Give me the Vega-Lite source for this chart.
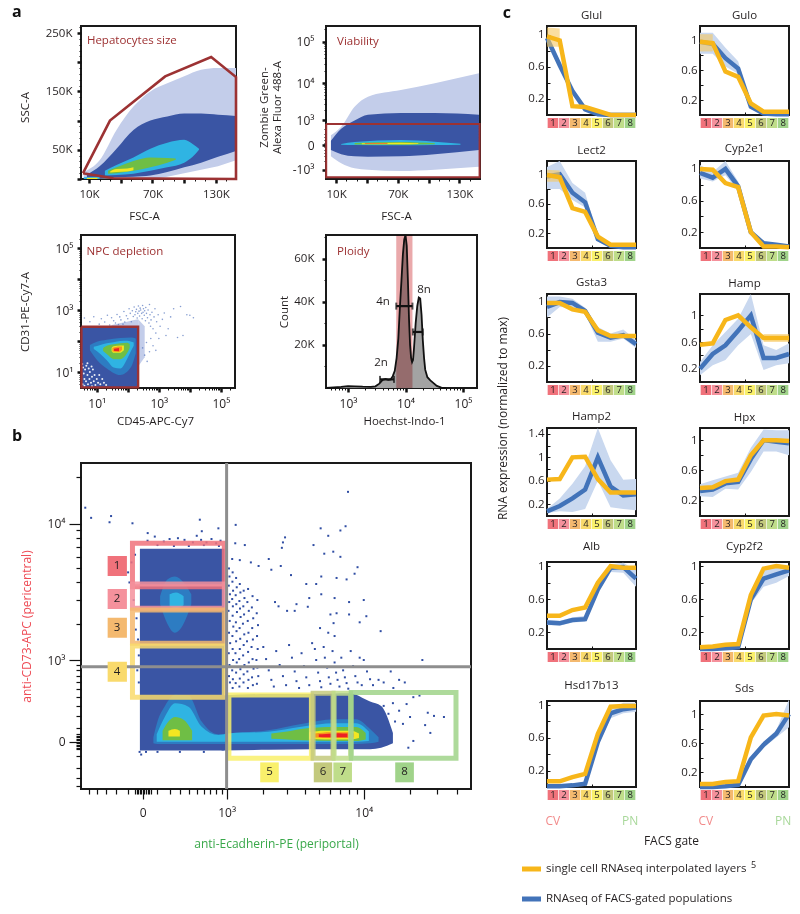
{"$schema":"https://vega.github.io/schema/vega-lite/v6.json","background":"white","padding":{"left":11,"top":3,"right":0,"bottom":0},
"config":{"font":"Open Sans","view":{"stroke":"#1a1a1a","strokeWidth":2},"range":{"category":["#c3cdea","#3a55a4","#2d7cc2","#2fb4e3","#6fbe45","#f2e621","#f7941d","#ed2024","#f0727b","#f5919c","#f4b96f","#f9da6c","#f9f06b","#c3c97d","#bfdd8a","#a0d38a"]},
"axis":{"domain":false,"grid":false,"labelFont":"Open Sans","labelFontSize":11.5,"labelColor":"#231f20","labelFlush":false,"labelOverlap":false,"labelBound":false,"titleFont":"Open Sans","titleFontSize":11.5,"titleFontWeight":"normal","titleColor":"#231f20","tickColor":"#111111","labelPadding":3},
"title":{"font":"Open Sans","fontSize":11.5,"fontWeight":"normal","color":"#231f20","offset":5,"frame":"group"},"text":{"font":"Open Sans"}},
"datasets":{
"sp":[{"k":0}],
"g":[{"level":"g1","n":"1"},{"level":"g2","n":"2"},{"level":"g3","n":"3"},{"level":"g4","n":"4"},{"level":"g5","n":"5"},{"level":"g6","n":"6"},{"level":"g7","n":"7"},{"level":"g8","n":"8"}],
"c":[
{"gene":"Glul","g":1,"b":0.96,"l":0.92,"h":1.0,"y":0.98,"yl":0.85,"yh":1.09},{"gene":"Glul","g":2,"b":0.62,"l":0.58,"h":0.66,"y":0.93,"yl":0.85,"yh":1.08},{"gene":"Glul","g":3,"b":0.3,"l":0.26,"h":0.33,"y":0.11},{"gene":"Glul","g":4,"b":0.07,"l":0.05,"h":0.09,"y":0.1},{"gene":"Glul","g":5,"b":0.01,"l":0,"h":0.03,"y":0.05},{"gene":"Glul","g":6,"b":0,"l":0,"h":0.03,"y":0},{"gene":"Glul","g":7,"b":0,"l":0,"h":0.03,"y":0},{"gene":"Glul","g":8,"b":0,"l":0,"h":0.03,"y":0},
{"gene":"Gulo","g":1,"b":0.98,"l":0.82,"h":1.1,"y":0.98,"yl":0.85,"yh":1.08},{"gene":"Gulo","g":2,"b":0.95,"l":0.82,"h":1.1,"y":0.96,"yl":0.85,"yh":1.08},{"gene":"Gulo","g":3,"b":0.76,"l":0.65,"h":0.9,"y":0.58},{"gene":"Gulo","g":4,"b":0.62,"l":0.55,"h":0.72,"y":0.51},{"gene":"Gulo","g":5,"b":0.11,"l":0.08,"h":0.14,"y":0.155},{"gene":"Gulo","g":6,"b":0.02,"l":0.01,"h":0.04,"y":0.045},{"gene":"Gulo","g":7,"b":0.01,"l":0,"h":0.03,"y":0.045},{"gene":"Gulo","g":8,"b":0.01,"l":0,"h":0.03,"y":0.045},
{"gene":"Lect2","g":1,"b":0.97,"l":0.8,"h":1.1,"y":0.99,"yl":0.9,"yh":1.06},{"gene":"Lect2","g":2,"b":1.0,"l":0.8,"h":1.18,"y":0.96,"yl":0.9,"yh":1.05},{"gene":"Lect2","g":3,"b":0.75,"l":0.65,"h":0.88,"y":0.54},{"gene":"Lect2","g":4,"b":0.62,"l":0.55,"h":0.75,"y":0.49},{"gene":"Lect2","g":5,"b":0.12,"l":0.09,"h":0.15,"y":0.155},{"gene":"Lect2","g":6,"b":0.03,"l":0.01,"h":0.05,"y":0.045},{"gene":"Lect2","g":7,"b":0.01,"l":0,"h":0.03,"y":0.045},{"gene":"Lect2","g":8,"b":0.01,"l":0,"h":0.03,"y":0.045},
{"gene":"Cyp2e1","g":1,"b":0.95,"l":0.88,"h":1.05,"y":1.0},{"gene":"Cyp2e1","g":2,"b":0.89,"l":0.84,"h":0.96,"y":0.99},{"gene":"Cyp2e1","g":3,"b":1.0,"l":0.92,"h":1.1,"y":0.82},{"gene":"Cyp2e1","g":4,"b":0.78,"l":0.72,"h":0.84,"y":0.77},{"gene":"Cyp2e1","g":5,"b":0.2,"l":0.17,"h":0.23,"y":0.2},{"gene":"Cyp2e1","g":6,"b":0.06,"l":0.03,"h":0.08,"y":0.02},{"gene":"Cyp2e1","g":7,"b":0.04,"l":0.02,"h":0.06,"y":0.02},{"gene":"Cyp2e1","g":8,"b":0.02,"l":0,"h":0.04,"y":0.01},
{"gene":"Gsta3","g":1,"b":0.93,"l":0.8,"h":1.06,"y":0.98},{"gene":"Gsta3","g":2,"b":0.99,"l":0.93,"h":1.06,"y":0.98},{"gene":"Gsta3","g":3,"b":0.98,"l":0.92,"h":1.03,"y":0.9},{"gene":"Gsta3","g":4,"b":0.88,"l":0.85,"h":0.92,"y":0.87},{"gene":"Gsta3","g":5,"b":0.61,"l":0.5,"h":0.68,"y":0.64},{"gene":"Gsta3","g":6,"b":0.55,"l":0.5,"h":0.6,"y":0.57},{"gene":"Gsta3","g":7,"b":0.58,"l":0.54,"h":0.65,"y":0.57},{"gene":"Gsta3","g":8,"b":0.47,"l":0.42,"h":0.52,"y":0.57},
{"gene":"Hamp","g":1,"b":0.2,"l":0.1,"h":0.3,"y":0.56},{"gene":"Hamp","g":2,"b":0.42,"l":0.25,"h":0.55,"y":0.58},{"gene":"Hamp","g":3,"b":0.55,"l":0.33,"h":0.75,"y":0.93},{"gene":"Hamp","g":4,"b":0.77,"l":0.55,"h":0.95,"y":1.0},{"gene":"Hamp","g":5,"b":1.0,"l":0.72,"h":1.32,"y":0.82},{"gene":"Hamp","g":6,"b":0.36,"l":0.18,"h":0.55,"y":0.66,"yl":0.6,"yh":0.72},{"gene":"Hamp","g":7,"b":0.36,"l":0.25,"h":0.48,"y":0.66,"yl":0.6,"yh":0.72},{"gene":"Hamp","g":8,"b":0.42,"l":0.28,"h":0.58,"y":0.66,"yl":0.6,"yh":0.72},
{"gene":"Hamp2","g":1,"b":0.08,"l":0.05,"h":0.12,"y":0.62},{"gene":"Hamp2","g":2,"b":0.17,"l":0.08,"h":0.3,"y":0.63},{"gene":"Hamp2","g":3,"b":0.3,"l":0.07,"h":0.55,"y":1.0},{"gene":"Hamp2","g":4,"b":0.45,"l":0.12,"h":0.85,"y":1.01},{"gene":"Hamp2","g":5,"b":1.0,"l":0.6,"h":1.5,"y":0.63},{"gene":"Hamp2","g":6,"b":0.5,"l":0.15,"h":0.95,"y":0.4},{"gene":"Hamp2","g":7,"b":0.35,"l":0.12,"h":0.62,"y":0.4},{"gene":"Hamp2","g":8,"b":0.37,"l":0.1,"h":0.63,"y":0.4},
{"gene":"Hpx","g":1,"b":0.33,"l":0.26,"h":0.42,"y":0.37},{"gene":"Hpx","g":2,"b":0.35,"l":0.25,"h":0.47,"y":0.38},{"gene":"Hpx","g":3,"b":0.43,"l":0.36,"h":0.52,"y":0.46},{"gene":"Hpx","g":4,"b":0.45,"l":0.35,"h":0.57,"y":0.48},{"gene":"Hpx","g":5,"b":0.75,"l":0.58,"h":0.9,"y":0.8},{"gene":"Hpx","g":6,"b":1.0,"l":0.85,"h":1.14,"y":1.0},{"gene":"Hpx","g":7,"b":0.98,"l":0.85,"h":1.13,"y":1.0},{"gene":"Hpx","g":8,"b":0.96,"l":0.8,"h":1.13,"y":0.99},
{"gene":"Alb","g":1,"b":0.32,"l":0.29,"h":0.35,"y":0.4},{"gene":"Alb","g":2,"b":0.31,"l":0.28,"h":0.34,"y":0.4},{"gene":"Alb","g":3,"b":0.35,"l":0.32,"h":0.38,"y":0.47},{"gene":"Alb","g":4,"b":0.36,"l":0.33,"h":0.4,"y":0.5},{"gene":"Alb","g":5,"b":0.72,"l":0.68,"h":0.76,"y":0.8},{"gene":"Alb","g":6,"b":0.98,"l":0.93,"h":1.02,"y":1.0},{"gene":"Alb","g":7,"b":0.99,"l":0.92,"h":1.04,"y":0.98},{"gene":"Alb","g":8,"b":0.85,"l":0.75,"h":0.95,"y":0.98},
{"gene":"Cyp2f2","g":1,"b":0,"l":0,"h":0.02,"y":0.02},{"gene":"Cyp2f2","g":2,"b":0,"l":0,"h":0.02,"y":0.03},{"gene":"Cyp2f2","g":3,"b":0.01,"l":0,"h":0.03,"y":0.05},{"gene":"Cyp2f2","g":4,"b":0.02,"l":0,"h":0.04,"y":0.06},{"gene":"Cyp2f2","g":5,"b":0.6,"l":0.55,"h":0.68,"y":0.65},{"gene":"Cyp2f2","g":6,"b":0.85,"l":0.75,"h":0.95,"y":0.97},{"gene":"Cyp2f2","g":7,"b":0.9,"l":0.8,"h":1.0,"y":1.0},{"gene":"Cyp2f2","g":8,"b":0.95,"l":0.88,"h":1.0,"y":0.98},
{"gene":"Hsd17b13","g":1,"b":0.01,"l":0,"h":0.03,"y":0.07},{"gene":"Hsd17b13","g":2,"b":0.01,"l":0,"h":0.03,"y":0.07},{"gene":"Hsd17b13","g":3,"b":0.02,"l":0,"h":0.04,"y":0.12},{"gene":"Hsd17b13","g":4,"b":0.04,"l":0.02,"h":0.06,"y":0.16},{"gene":"Hsd17b13","g":5,"b":0.55,"l":0.5,"h":0.6,"y":0.65},{"gene":"Hsd17b13","g":6,"b":0.9,"l":0.84,"h":0.95,"y":0.98},{"gene":"Hsd17b13","g":7,"b":0.95,"l":0.9,"h":1.03,"y":0.99},{"gene":"Hsd17b13","g":8,"b":0.97,"l":0.92,"h":1.03,"y":0.99},
{"gene":"Sds","g":1,"b":0,"l":0,"h":0.02,"y":0.04},{"gene":"Sds","g":2,"b":0,"l":0,"h":0.02,"y":0.04},{"gene":"Sds","g":3,"b":0.01,"l":0,"h":0.03,"y":0.07},{"gene":"Sds","g":4,"b":0.03,"l":0.01,"h":0.05,"y":0.08},{"gene":"Sds","g":5,"b":0.38,"l":0.34,"h":0.42,"y":0.68},{"gene":"Sds","g":6,"b":0.58,"l":0.54,"h":0.62,"y":0.98},{"gene":"Sds","g":7,"b":0.73,"l":0.68,"h":0.78,"y":1.0},{"gene":"Sds","g":8,"b":1.0,"l":0.82,"h":1.2,"y":0.98}
]},
"spacing":9,
"hconcat":[
{"spacing":-2,"vconcat":[
{"columns":2,"bounds":"flush","spacing":{"row":56,"column":90},"concat":[
    {"width":155,"height":153,"title":{"text":"a","anchor":"start","dx":-69,"dy":4,"fontSize":16,"fontWeight":"bold","color":"#111111"},
     "layer":[
      {"data":{"values":[
       {"shape":"s","level":"a0","x":5,"y":2,"y2":12},{"shape":"s","level":"a0","x":20,"y":1,"y2":32},{"shape":"s","level":"a0","x":36,"y":1,"y2":84},{"shape":"s","level":"a0","x":52,"y":1,"y2":124},{"shape":"s","level":"a0","x":68,"y":1,"y2":150},{"shape":"s","level":"a0","x":84,"y":4,"y2":164},{"shape":"s","level":"a0","x":100,"y":10,"y2":176},{"shape":"s","level":"a0","x":116,"y":16,"y2":187},{"shape":"s","level":"a0","x":132,"y":22,"y2":190},{"shape":"s","level":"a0","x":149,"y":32,"y2":190},
       {"shape":"b","level":"d0","x":8,"y":0,"y2":8},{"shape":"b","level":"d0","x":20,"y":1,"y2":22},{"shape":"b","level":"d0","x":36,"y":3,"y2":52},{"shape":"b","level":"d0","x":52,"y":4,"y2":84},{"shape":"b","level":"d0","x":68,"y":6,"y2":100},{"shape":"b","level":"d0","x":84,"y":12,"y2":107},{"shape":"b","level":"d0","x":100,"y":20,"y2":112},{"shape":"b","level":"d0","x":116,"y":28,"y2":112},{"shape":"b","level":"d0","x":132,"y":38,"y2":110},{"shape":"b","level":"d0","x":149,"y":48,"y2":108},
       {"shape":"c","level":"d2","x":25,"y":6,"y2":14},{"shape":"c","level":"d2","x":36,"y":7,"y2":24},{"shape":"c","level":"d2","x":52,"y":9,"y2":37},{"shape":"c","level":"d2","x":68,"y":14,"y2":52},{"shape":"c","level":"d2","x":84,"y":20,"y2":62},{"shape":"c","level":"d2","x":100,"y":28,"y2":67},{"shape":"c","level":"d2","x":108,"y":38,"y2":60},{"shape":"c","level":"d2","x":114,"y":50,"y2":52},
       {"shape":"g","level":"d3","x":28,"y":9,"y2":14},{"shape":"g","level":"d3","x":36,"y":10,"y2":20},{"shape":"g","level":"d3","x":52,"y":14,"y2":31},{"shape":"g","level":"d3","x":68,"y":20,"y2":37},{"shape":"g","level":"d3","x":84,"y":28,"y2":36},{"shape":"g","level":"d3","x":92,"y":33,"y2":35},
       {"shape":"y","level":"d4","x":30,"y":11,"y2":13},{"shape":"y","level":"d4","x":36,"y":12,"y2":17},{"shape":"y","level":"d4","x":46,"y":13,"y2":18},{"shape":"y","level":"d4","x":52,"y":15,"y2":20},
       {"shape":"y2","level":"d2","x":5,"y":0,"y2":3},{"shape":"y2","level":"d2","x":20,"y":0,"y2":4},{"shape":"y3","level":"d4","x":8,"y":0,"y2":2},{"shape":"y3","level":"d4","x":18,"y":0,"y2":2}
      ]},"mark":{"type":"area","interpolate":"monotone","clip":true},"encoding":{"x":{"field":"x","type":"quantitative","scale":{"domain":[2.4,149],"nice":false},"axis":{"labelOverlap":false,"tickCount":500,"title":"FSC-A","titleX":63,"titleY":31,"values":[10,20,30,40,50,60,70,80,90,100,110,120,130,140],"labelExpr":"datum.value==10||datum.value==70||datum.value==130?datum.value+'K':''","labelPadding":5,"tickSize":{"condition":{"test":"datum.value%30==10","value":4},"value":2},"tickWidth":{"condition":{"test":"datum.value%30==10","value":2.5},"value":1}}},"y":{"field":"y","type":"quantitative","scale":{"domain":[0,262],"nice":false},"axis":{"labelOverlap":false,"tickCount":500,"title":"SSC-A","titleX":-51,"titleY":81,"values":[0,10,20,30,40,50,60,70,80,90,100,110,120,130,140,150,160,170,180,190,200,210,220,230,240,250,260],"labelExpr":"datum.value==50||datum.value==150||datum.value==250?datum.value+'K':''","labelPadding":5,"tickSize":{"condition":{"test":"datum.value%50==0","value":4},"value":2},"tickWidth":{"condition":{"test":"datum.value%50==0","value":2.5},"value":1}}},"y2":{"field":"y2"},"color":{"field":"level","type":"nominal","legend":null},"detail":{"field":"shape"}}},
      {"data":{"values":[{"o":1,"x":4.3,"y":10},{"o":2,"x":29.8,"y":100},{"o":3,"x":82,"y":175.7},{"o":4,"x":125.5,"y":209},{"o":5,"x":149,"y":174.6},{"o":6,"x":149,"y":0},{"o":7,"x":33,"y":1.4},{"o":8,"x":4.3,"y":10}]},"mark":{"type":"line","color":"#9c3233","strokeWidth":2.6},"encoding":{"x":{"field":"x","type":"quantitative"},"y":{"field":"y","type":"quantitative"},"order":{"field":"o"}}},
      {"data":{"values":[{"x":8,"y":236,"t":"Hepatocytes size"}]},"mark":{"type":"text","align":"left","fontSize":11.5,"color":"#9c2f30"},"encoding":{"x":{"field":"x","type":"quantitative"},"y":{"field":"y","type":"quantitative"},"text":{"field":"t"}}}
     ]},
    {"width":154,"height":153,
     "layer":[
      {"data":{"values":[
       {"shape":"s","level":"a0","x":5,"y":-300,"y2":250},{"shape":"s","level":"a0","x":15,"y":-600,"y2":605},{"shape":"s","level":"a0","x":28,"y":-900,"y2":2500},{"shape":"s","level":"a0","x":41,"y":-1000,"y2":4600},{"shape":"s","level":"a0","x":73,"y":-1100,"y2":6800},{"shape":"s","level":"a0","x":106,"y":-1000,"y2":10000},{"shape":"s","level":"a0","x":149,"y":-800,"y2":17500},
       {"shape":"b","level":"d0","x":5,"y":-110,"y2":90},{"shape":"b","level":"d0","x":15,"y":-230,"y2":500},{"shape":"b","level":"d0","x":28,"y":-300,"y2":1000},{"shape":"b","level":"d0","x":41,"y":-313,"y2":1500},{"shape":"b","level":"d0","x":73,"y":-300,"y2":1660},{"shape":"b","level":"d0","x":106,"y":-230,"y2":1660},{"shape":"b","level":"d0","x":149,"y":-110,"y2":1500},
       {"shape":"c","level":"d2","x":15,"y":5,"y2":20},{"shape":"c","level":"d2","x":28,"y":0,"y2":60},{"shape":"c","level":"d2","x":73,"y":-5,"y2":110},{"shape":"c","level":"d2","x":106,"y":0,"y2":70},{"shape":"c","level":"d2","x":131,"y":5,"y2":25},
       {"shape":"g","level":"d3","x":28,"y":8,"y2":40},{"shape":"g","level":"d3","x":73,"y":5,"y2":65},{"shape":"g","level":"d3","x":106,"y":15,"y2":35},
       {"shape":"y","level":"d4","x":35,"y":15,"y2":35},{"shape":"y","level":"d4","x":73,"y":15,"y2":45},{"shape":"y","level":"d4","x":90,"y":20,"y2":35},
       {"shape":"r","level":"d6","x":38,"y":22,"y2":30},{"shape":"r","level":"d6","x":60,"y":22,"y2":32}
      ]},"mark":{"type":"area","interpolate":"monotone","clip":true},"encoding":{"x":{"field":"x","type":"quantitative","scale":{"domain":[0.2,150],"nice":false},"axis":{"labelOverlap":false,"tickCount":500,"title":"FSC-A","titleX":70,"titleY":31,"values":[10,20,30,40,50,60,70,80,90,100,110,120,130,140],"labelExpr":"datum.value==10||datum.value==70||datum.value==130?datum.value+'K':''","labelPadding":5,"tickSize":{"condition":{"test":"datum.value%30==10","value":4},"value":2},"tickWidth":{"condition":{"test":"datum.value%30==10","value":2.5},"value":1}}},"y":{"field":"y","type":"quantitative","scale":{"type":"symlog","constant":350,"domain":[-1907,238000],"nice":false},"axis":{"labelOverlap":false,"tickCount":500,"title":["Zombie Green-","Alexa Fluor 488-A"],"titleX":-57,"titleY":81,"values":[-1000,-500,-300,-200,-100,-50,-25,0,25,50,100,200,300,500,1000,2000,3000,4000,5000,6000,7000,8000,9000,10000,20000,30000,40000,50000,60000,70000,80000,90000,100000,200000],"labelExpr":"datum.value==-1000?'-10³':datum.value==0?'0':datum.value==1000?'10³':datum.value==10000?'10⁴':datum.value==100000?'10⁵':''","labelPadding":8,"labelFontSize":12,"tickSize":{"condition":{"test":"datum.value==-1000||datum.value==0||datum.value==1000||datum.value==10000||datum.value==100000","value":4},"value":2},"tickWidth":{"condition":{"test":"datum.value==-1000||datum.value==0||datum.value==1000||datum.value==10000||datum.value==100000","value":2.5},"value":1}}},"y2":{"field":"y2"},"color":{"field":"level","type":"nominal","legend":null},"detail":{"field":"shape"}}},
      {"data":{"values":[{"o":1,"x":0.4,"y":757},{"o":2,"x":149.6,"y":757},{"o":3,"x":149.6,"y":-1710},{"o":4,"x":0.4,"y":-1710},{"o":5,"x":0.4,"y":757}]},"mark":{"type":"line","color":"#9c3233","strokeWidth":2},"encoding":{"x":{"field":"x","type":"quantitative"},"y":{"field":"y","type":"quantitative"},"order":{"field":"o"}}},
      {"data":{"values":[{"x":11,"y":98700,"t":"Viability"}]},"mark":{"type":"text","align":"left","fontSize":11.5,"color":"#9c2f30"},"encoding":{"x":{"field":"x","type":"quantitative"},"y":{"field":"y","type":"quantitative"},"text":{"field":"t"}}}
     ]},
    {"width":154,"height":153,
     "layer":[
      {"data":{"values":[
       {"shape":"s1","level":"a0","x":30,"y":288,"y2":330},{"shape":"s1","level":"a0","x":100,"y":288,"y2":430},{"shape":"s1","level":"a0","x":215,"y":288,"y2":500},
       {"shape":"s2","level":"a0","x":215,"y":15,"y2":500},{"shape":"s2","level":"a0","x":350,"y":30,"y2":300},
       {"shape":"b","level":"d0","x":3.05,"y":3.1,"y2":288},{"shape":"b","level":"d0","x":215,"y":3.1,"y2":288},
       {"shape":"m","level":"d1","x":6,"y":50,"y2":75},{"shape":"m","level":"d1","x":10,"y":25,"y2":95},{"shape":"m","level":"d1","x":21,"y":13,"y2":110},{"shape":"m","level":"d1","x":57,"y":8,"y2":125},{"shape":"m","level":"d1","x":130,"y":15,"y2":130},{"shape":"m","level":"d1","x":180,"y":40,"y2":120},
       {"shape":"c","level":"d2","x":8,"y":55,"y2":65},{"shape":"c","level":"d2","x":13,"y":38,"y2":75},{"shape":"c","level":"d2","x":21,"y":24,"y2":85},{"shape":"c","level":"d2","x":35,"y":14,"y2":92},{"shape":"c","level":"d2","x":57,"y":13,"y2":100},{"shape":"c","level":"d2","x":94,"y":26,"y2":102},{"shape":"c","level":"d2","x":130,"y":50,"y2":95},{"shape":"c","level":"d2","x":155,"y":70,"y2":90},
       {"shape":"g","level":"d3","x":16,"y":48,"y2":60},{"shape":"g","level":"d3","x":21,"y":38,"y2":70},{"shape":"g","level":"d3","x":35,"y":26,"y2":78},{"shape":"g","level":"d3","x":57,"y":26,"y2":85},{"shape":"g","level":"d3","x":94,"y":40,"y2":88},{"shape":"g","level":"d3","x":115,"y":60,"y2":80},
       {"shape":"y","level":"d4","x":30,"y":48,"y2":60},{"shape":"y","level":"d4","x":35,"y":42,"y2":68},{"shape":"y","level":"d4","x":57,"y":42,"y2":72},{"shape":"y","level":"d4","x":75,"y":50,"y2":72},
       {"shape":"o","level":"d5","x":32,"y":46,"y2":60},{"shape":"o","level":"d5","x":55,"y":45,"y2":66},{"shape":"o","level":"d5","x":65,"y":52,"y2":66},
       {"shape":"r","level":"d6","x":36,"y":48,"y2":56},{"shape":"r","level":"d6","x":52,"y":47,"y2":60}
      ]},"mark":{"type":"area","interpolate":"monotone","clip":true},"encoding":{"x":{"field":"x","type":"quantitative","scale":{"type":"log","domain":[3.1,285000],"nice":false},"axis":{"labelOverlap":false,"tickCount":500,"title":"CD45-APC-Cy7","titleX":74,"titleY":27,"values":[4,5,6,7,8,9,10,20,30,40,50,60,70,80,90,100,200,300,400,500,600,700,800,900,1000,2000,3000,4000,5000,6000,7000,8000,9000,10000,20000,30000,40000,50000,60000,70000,80000,90000,100000,200000],"labelExpr":"datum.value==10?'10¹':datum.value==1000?'10³':datum.value==100000?'10⁵':''","labelFontSize":12,"labelPadding":6,"tickSize":{"condition":{"test":"datum.value==10||datum.value==100||datum.value==1000||datum.value==10000||datum.value==100000","value":4},"value":2},"tickWidth":{"condition":{"test":"datum.value==10||datum.value==100||datum.value==1000||datum.value==10000||datum.value==100000","value":2.5},"value":1}}},"y":{"field":"y","type":"quantitative","scale":{"type":"log","domain":[3.05,263000],"nice":false},"axis":{"labelOverlap":false,"tickCount":500,"title":"CD31-PE-Cy7-A","titleX":-51,"values":[4,5,6,7,8,9,10,20,30,40,50,60,70,80,90,100,200,300,400,500,600,700,800,900,1000,2000,3000,4000,5000,6000,7000,8000,9000,10000,20000,30000,40000,50000,60000,70000,80000,90000,100000,200000],"labelExpr":"datum.value==10?'10¹':datum.value==1000?'10³':datum.value==100000?'10⁵':''","labelFontSize":12,"labelPadding":4,"tickSize":{"condition":{"test":"datum.value==10||datum.value==100||datum.value==1000||datum.value==10000||datum.value==100000","value":4},"value":2},"tickWidth":{"condition":{"test":"datum.value==10||datum.value==100||datum.value==1000||datum.value==10000||datum.value==100000","value":2.5},"value":1}}},"y2":{"field":"y2"},"color":{"field":"level","type":"nominal","legend":null},"detail":{"field":"shape"}}},
      {"data":{"values":[{"x":3.5,"y":4},{"x":4,"y":6},{"x":3.8,"y":9},{"x":4.5,"y":5},{"x":5,"y":8},{"x":5.2,"y":4},{"x":5.8,"y":6},{"x":6,"y":10},{"x":6.5,"y":4.5},{"x":7,"y":7},{"x":7.5,"y":12},{"x":8,"y":5},{"x":8.5,"y":8},{"x":9,"y":3.8},{"x":10,"y":6},{"x":11,"y":4.5},{"x":12,"y":8},{"x":13,"y":4},{"x":15,"y":6},{"x":3.6,"y":14},{"x":4.2,"y":12},{"x":4.6,"y":16},{"x":5.5,"y":13},{"x":6.8,"y":15},{"x":17,"y":4.5},{"x":20,"y":3.8},{"x":4,"y":3.6},{"x":7,"y":3.5},{"x":3.4,"y":18},{"x":5,"y":19}]},"mark":{"type":"circle","size":4,"opacity":0.9,"color":"white"},"encoding":{"x":{"field":"x","type":"quantitative"},"y":{"field":"y","type":"quantitative"}}},
      {"data":{"values":[{"x":4,"y":550},{"x":6,"y":420},{"x":8,"y":610},{"x":12,"y":350},{"x":14,"y":520},{"x":18,"y":410},{"x":22,"y":680},{"x":26,"y":330},{"x":30,"y":560},{"x":35,"y":450},{"x":40,"y":380},{"x":45,"y":720},{"x":50,"y":340},{"x":55,"y":600},{"x":60,"y":480},{"x":70,"y":350},{"x":75,"y":900},{"x":80,"y":410},{"x":90,"y":650},{"x":100,"y":520},{"x":110,"y":1100},{"x":120,"y":780},{"x":130,"y":420},{"x":140,"y":950},{"x":150,"y":620},{"x":160,"y":1250},{"x":170,"y":700},{"x":180,"y":880},{"x":190,"y":1050},{"x":200,"y":550},{"x":210,"y":780},{"x":220,"y":1350},{"x":230,"y":920},{"x":240,"y":640},{"x":250,"y":1150},{"x":260,"y":1000},{"x":280,"y":780},{"x":290,"y":520},{"x":300,"y":1400},{"x":310,"y":850},{"x":320,"y":1100},{"x":340,"y":680},{"x":350,"y":950},{"x":370,"y":450},{"x":380,"y":1200},{"x":400,"y":780},{"x":430,"y":560},{"x":450,"y":1000},{"x":480,"y":380},{"x":500,"y":1500},{"x":520,"y":700},{"x":540,"y":300},{"x":560,"y":480},{"x":600,"y":850},{"x":650,"y":250},{"x":700,"y":600},{"x":750,"y":1100},{"x":800,"y":180},{"x":850,"y":420},{"x":950,"y":700},{"x":1000,"y":120},{"x":1100,"y":300},{"x":1300,"y":500},{"x":1500,"y":800},{"x":1700,"y":150},{"x":2000,"y":250},{"x":2400,"y":600},{"x":3000,"y":1100},{"x":5000,"y":1300},{"x":8000,"y":700},{"x":10000,"y":680},{"x":13000,"y":560},{"x":6000,"y":150},{"x":4000,"y":130},{"x":300,"y":60},{"x":350,"y":35},{"x":400,"y":90},{"x":420,"y":22},{"x":500,"y":45},{"x":550,"y":120},{"x":650,"y":70},{"x":800,"y":50}]},"mark":{"type":"circle","size":2.5,"opacity":0.75,"color":"#5d7cc2"},"encoding":{"x":{"field":"x","type":"quantitative"},"y":{"field":"y","type":"quantitative"}}},
      {"data":{"values":[{"o":1,"x":3.2,"y":288},{"o":2,"x":215,"y":288},{"o":3,"x":215,"y":3.2},{"o":4,"x":3.2,"y":3.2},{"o":5,"x":3.2,"y":288}]},"mark":{"type":"line","color":"#9c3233","strokeWidth":2.4},"encoding":{"x":{"field":"x","type":"quantitative"},"y":{"field":"y","type":"quantitative"},"order":{"field":"o"}}},
      {"data":{"values":[{"x":4.7,"y":76000,"t":"NPC depletion"}]},"mark":{"type":"text","align":"left","fontSize":11.5,"color":"#9c2f30"},"encoding":{"x":{"field":"x","type":"quantitative"},"y":{"field":"y","type":"quantitative"},"text":{"field":"t"}}}
     ]},
    {"width":151,"height":153,
     "data":{"values":[{"x":420,"c":0},{"x":760,"c":500},{"x":1000,"c":900},{"x":1300,"c":800},{"x":1800,"c":600},{"x":2500,"c":500},{"x":3000,"c":800},{"x":3500,"c":2000},{"x":4000,"c":3800},{"x":4500,"c":4200},{"x":5000,"c":3800},{"x":5500,"c":4000},{"x":6000,"c":5500},{"x":6500,"c":8000},{"x":7000,"c":14000},{"x":7500,"c":23000},{"x":8000,"c":38000},{"x":8500,"c":50000},{"x":9000,"c":62000},{"x":9500,"c":69000},{"x":10000,"c":71000},{"x":10500,"c":66000},{"x":11000,"c":50000},{"x":11500,"c":32000},{"x":12000,"c":20000},{"x":12500,"c":14000},{"x":13000,"c":12000},{"x":13500,"c":13000},{"x":14000,"c":18000},{"x":15000,"c":30000},{"x":16000,"c":38000},{"x":17000,"c":42000},{"x":18000,"c":41500},{"x":19000,"c":34000},{"x":20000,"c":22000},{"x":21000,"c":14000},{"x":22000,"c":8500},{"x":24000,"c":5000},{"x":27000,"c":3500},{"x":30000,"c":2500},{"x":35000,"c":1000},{"x":42000,"c":200},{"x":50000,"c":0}]},
     "layer":[
      {"mark":{"type":"area","color":"#a3a3a3"},"encoding":{"x":{"field":"x","type":"quantitative","scale":{"type":"log","domain":[414,175000],"nice":false},"axis":{"labelOverlap":false,"tickCount":500,"title":"Hoechst-Indo-1","titleX":78,"titleY":27,"values":[500,600,700,800,900,1000,2000,3000,4000,5000,6000,7000,8000,9000,10000,20000,30000,40000,50000,60000,70000,80000,90000,100000],"labelExpr":"datum.value==1000?'10³':datum.value==10000?'10⁴':datum.value==100000?'10⁵':''","labelFontSize":12,"labelPadding":6,"tickSize":{"condition":{"test":"datum.value==1000||datum.value==10000||datum.value==100000","value":4},"value":2},"tickWidth":{"condition":{"test":"datum.value==1000||datum.value==10000||datum.value==100000","value":2.5},"value":1}}},"y":{"field":"c","type":"quantitative","scale":{"domain":[0,71000],"nice":false},"axis":{"labelOverlap":false,"tickCount":500,"title":"Count","titleX":-37,"values":[10000,20000,30000,40000,50000,60000,70000],"labelExpr":"datum.value==20000||datum.value==40000||datum.value==60000?(datum.value/1000)+'K':''","labelPadding":8,"tickSize":{"condition":{"test":"datum.value%20000==0","value":4},"value":2},"tickWidth":{"condition":{"test":"datum.value%20000==0","value":2.5},"value":1}}}}},
      {"data":{"values":[{"a":6900,"b":13200}]},"mark":{"type":"rect","color":"#e79a9c","opacity":0.85,"blend":"multiply"},"encoding":{"x":{"field":"a","type":"quantitative"},"x2":{"field":"b"}}},
      {"mark":{"type":"line","color":"#111111","strokeWidth":1.8},"encoding":{"x":{"field":"x","type":"quantitative"},"y":{"field":"c","type":"quantitative"}}},
      {"data":{"values":[{"a":6900,"b":13200,"c":38000},{"a":13400,"b":20000,"c":26000},{"a":3600,"b":6300,"c":4000}]},"layer":[
        {"mark":{"type":"rule","color":"#111111","strokeWidth":2.2},"encoding":{"x":{"field":"a","type":"quantitative"},"x2":{"field":"b"},"y":{"field":"c","type":"quantitative"}}},
        {"mark":{"type":"tick","orient":"vertical","color":"#111111","size":7,"thickness":2},"encoding":{"x":{"field":"a","type":"quantitative"},"y":{"field":"c","type":"quantitative"}}},
        {"mark":{"type":"tick","orient":"vertical","color":"#111111","size":7,"thickness":2},"encoding":{"x":{"field":"b","type":"quantitative"},"y":{"field":"c","type":"quantitative"}}}
      ]},
      {"data":{"values":[{"x":4070,"c":40000,"t":"4n"},{"x":21000,"c":45600,"t":"8n"},{"x":3750,"c":11600,"t":"2n"}]},"mark":{"type":"text","fontSize":11.5,"color":"#231f20"},"encoding":{"x":{"field":"x","type":"quantitative"},"y":{"field":"c","type":"quantitative"},"text":{"field":"t"}}},
      {"data":{"values":[{"x":645,"c":63300,"t":"Ploidy"}]},"mark":{"type":"text","align":"left","fontSize":11.5,"color":"#9c2f30"},"encoding":{"x":{"field":"x","type":"quantitative"},"y":{"field":"c","type":"quantitative"},"text":{"field":"t"}}}
     ]}
]},
 {"width":390,"height":326,"title":{"text":"b","anchor":"start","dx":-69,"dy":-13,"fontSize":16,"fontWeight":"bold","color":"#111111"},
  "layer":[
   {"data":{"values":[
    {"shape":"L","level":"d0","x":-18,"y":-60,"y2":6800},{"shape":"L","level":"d0","x":955,"y":-60,"y2":6800},
    {"shape":"B","level":"d0","x":900,"y":-60,"y2":420},{"shape":"B","level":"d0","x":2200,"y":-55,"y2":440},{"shape":"B","level":"d0","x":4500,"y":-50,"y2":440},{"shape":"B","level":"d0","x":8000,"y":-50,"y2":450},{"shape":"B","level":"d0","x":11000,"y":-50,"y2":350},{"shape":"B","level":"d0","x":13000,"y":-40,"y2":300},{"shape":"B","level":"d0","x":15500,"y":-10,"y2":60},
    {"shape":"S1","level":"d1","x":120,"y":2800,"y2":3200},{"shape":"S1","level":"d1","x":180,"y":2000,"y2":4200},{"shape":"S1","level":"d1","x":250,"y":1700,"y2":4400},{"shape":"S1","level":"d1","x":340,"y":2000,"y2":4000},{"shape":"S1","level":"d1","x":430,"y":2800,"y2":3300},
    {"shape":"M","level":"d1","x":70,"y":-10,"y2":30},{"shape":"M","level":"d1","x":100,"y":-15,"y2":150},{"shape":"M","level":"d1","x":160,"y":-15,"y2":300},{"shape":"M","level":"d1","x":252,"y":-15,"y2":430},{"shape":"M","level":"d1","x":395,"y":-15,"y2":420},{"shape":"M","level":"d1","x":568,"y":-15,"y2":150},{"shape":"M","level":"d1","x":840,"y":-15,"y2":50},{"shape":"M","level":"d1","x":1037,"y":-15,"y2":55},{"shape":"M","level":"d1","x":2176,"y":-15,"y2":80},{"shape":"M","level":"d1","x":3780,"y":-15,"y2":130},{"shape":"M","level":"d1","x":6390,"y":-15,"y2":170},{"shape":"M","level":"d1","x":8900,"y":-15,"y2":170},{"shape":"M","level":"d1","x":11000,"y":-10,"y2":90},{"shape":"M","level":"d1","x":12500,"y":0,"y2":30},
    {"shape":"S2","level":"d2","x":200,"y":2700,"y2":3300},{"shape":"S2","level":"d2","x":260,"y":2600,"y2":3400},{"shape":"S2","level":"d2","x":340,"y":2750,"y2":3200},
    {"shape":"C","level":"d2","x":94,"y":0,"y2":50},{"shape":"C","level":"d2","x":160,"y":0,"y2":194},{"shape":"C","level":"d2","x":252,"y":0,"y2":328},{"shape":"C","level":"d2","x":395,"y":0,"y2":292},{"shape":"C","level":"d2","x":568,"y":0,"y2":107},{"shape":"C","level":"d2","x":840,"y":0,"y2":45},{"shape":"C","level":"d2","x":1037,"y":0,"y2":56},{"shape":"C","level":"d2","x":2176,"y":0,"y2":69},{"shape":"C","level":"d2","x":3780,"y":0,"y2":107},{"shape":"C","level":"d2","x":6390,"y":0,"y2":135},{"shape":"C","level":"d2","x":8900,"y":0,"y2":135},{"shape":"C","level":"d2","x":10800,"y":5,"y2":70},
    {"shape":"G1","level":"d3","x":140,"y":10,"y2":75},{"shape":"G1","level":"d3","x":200,"y":10,"y2":160},{"shape":"G1","level":"d3","x":252,"y":10,"y2":190},{"shape":"G1","level":"d3","x":340,"y":10,"y2":165},{"shape":"G1","level":"d3","x":440,"y":10,"y2":75},
    {"shape":"G2","level":"d3","x":2300,"y":20,"y2":55},{"shape":"G2","level":"d3","x":3000,"y":15,"y2":70},{"shape":"G2","level":"d3","x":3780,"y":10,"y2":90},{"shape":"G2","level":"d3","x":6390,"y":5,"y2":105},{"shape":"G2","level":"d3","x":8900,"y":5,"y2":105},{"shape":"G2","level":"d3","x":10300,"y":15,"y2":60},
    {"shape":"Y1","level":"d4","x":190,"y":35,"y2":75},{"shape":"Y1","level":"d4","x":250,"y":35,"y2":90},{"shape":"Y1","level":"d4","x":300,"y":35,"y2":75},
    {"shape":"Y2","level":"d4","x":4300,"y":20,"y2":65},{"shape":"Y2","level":"d4","x":5500,"y":15,"y2":75},{"shape":"Y2","level":"d4","x":8200,"y":15,"y2":75},{"shape":"Y2","level":"d4","x":9300,"y":25,"y2":55},
    {"shape":"O","level":"d5","x":4700,"y":28,"y2":55},{"shape":"O","level":"d5","x":6000,"y":25,"y2":65},{"shape":"O","level":"d5","x":8000,"y":25,"y2":65},{"shape":"O","level":"d5","x":8600,"y":30,"y2":55},
    {"shape":"R","level":"d6","x":5000,"y":32,"y2":50},{"shape":"R","level":"d6","x":5600,"y":30,"y2":52},{"shape":"R","level":"d6","x":6800,"y":30,"y2":58},{"shape":"R","level":"d6","x":7800,"y":30,"y2":55}
   ]},"mark":{"type":"area","interpolate":"monotone","clip":true},"encoding":{"x":{"field":"x","type":"quantitative","scale":{"type":"symlog","constant":420,"domain":[-611,49100],"nice":false},"axis":{"labelOverlap":false,"tickCount":500,"title":"anti-Ecadherin-PE (periportal)","titleColor":"#39a84a","titleFontSize":12,"titleY":49,"values":[-500,-400,-300,-200,-100,-50,-40,-30,-20,-10,0,10,20,30,40,50,100,200,300,400,500,600,700,800,900,1000,2000,3000,4000,5000,6000,7000,8000,9000,10000,20000,30000,40000],"labelExpr":"datum.value==0?'0':datum.value==1000?'10³':datum.value==10000?'10⁴':''","labelFontSize":12,"labelPadding":8,"tickSize":{"condition":{"test":"datum.value==0||datum.value==1000||datum.value==10000","value":10},"value":5},"tickWidth":1.2}},"y":{"field":"y","type":"quantitative","scale":{"type":"symlog","constant":440,"domain":[-434,24700],"nice":false},"axis":{"labelOverlap":false,"tickCount":500,"title":"anti-CD73-APC (pericentral)","titleColor":"#ee4b55","titleFontSize":12,"titleX":-48,"values":[-400,-300,-200,-100,-50,-40,-30,-20,-10,0,10,20,30,40,50,100,200,300,400,500,600,700,800,900,1000,2000,3000,4000,5000,6000,7000,8000,9000,10000,20000],"labelExpr":"datum.value==0?'0':datum.value==1000?'10³':datum.value==10000?'10⁴':''","labelFontSize":12,"labelPadding":4,"tickSize":{"condition":{"test":"datum.value==0||datum.value==1000||datum.value==10000","value":12},"value":5},"tickWidth":1.2}},"y2":{"field":"y2"},"color":{"field":"level","type":"nominal","legend":null},"detail":{"field":"shape"}}},
   {"data":{"values":[{"x":-549,"y":12700},{"x":-470,"y":10900},{"x":-246,"y":11200},{"x":-261,"y":10200},{"x":-68,"y":10040},{"x":31,"y":8650},{"x":542,"y":10600},{"x":570,"y":8900},{"x":840,"y":9300},{"x":1200,"y":9800},{"x":7870,"y":16100},{"x":5150,"y":9300},{"x":7580,"y":9600},{"x":7000,"y":9000},{"x":5800,"y":8300},{"x":2900,"y":8100},{"x":2800,"y":7500},{"x":2750,"y":6900},{"x":4600,"y":7200},{"x":1430,"y":7200},{"x":1190,"y":7400},{"x":6270,"y":6500},{"x":5450,"y":6300},{"x":7000,"y":6000},{"x":2200,"y":5800},{"x":9100,"y":5100},{"x":8700,"y":4600},{"x":2700,"y":5200},{"x":2300,"y":4900},{"x":1840,"y":5200},{"x":1600,"y":5500},{"x":1300,"y":5700},{"x":1120,"y":5800},{"x":3200,"y":4500},{"x":5200,"y":4400},{"x":6600,"y":4300},{"x":7700,"y":4200},{"x":4100,"y":3900},{"x":4800,"y":3900},{"x":5200,"y":3300},{"x":6400,"y":3100},{"x":10000,"y":3000},{"x":8000,"y":2900},{"x":4300,"y":3100},{"x":3500,"y":2800},{"x":2450,"y":2900},{"x":2600,"y":2700},{"x":3000,"y":2500},{"x":3400,"y":2500},{"x":4200,"y":2680},{"x":6600,"y":2400},{"x":8000,"y":2350},{"x":10400,"y":2280},{"x":9400,"y":2050},{"x":12900,"y":1750},{"x":6000,"y":2350},{"x":6300,"y":2020},{"x":5100,"y":1850},{"x":5800,"y":1700},{"x":6400,"y":1600},
    {"x":1050,"y":5000},{"x":1060,"y":4400},{"x":1045,"y":3800},{"x":1070,"y":3300},{"x":1055,"y":2900},{"x":1040,"y":2500},{"x":1065,"y":2100},{"x":1050,"y":1700},{"x":1075,"y":1400},{"x":1045,"y":1150},{"x":1060,"y":900},{"x":1050,"y":700},{"x":1070,"y":600},
    {"x":1130,"y":4700},{"x":1125,"y":4050},{"x":1140,"y":3500},{"x":1120,"y":3050},{"x":1135,"y":2700},{"x":1130,"y":2300},{"x":1145,"y":1900},{"x":1125,"y":1600},{"x":1130,"y":1250},{"x":1140,"y":1000},{"x":1120,"y":800},{"x":1135,"y":650},{"x":1130,"y":520},
    {"x":1210,"y":4300},{"x":1225,"y":3700},{"x":1200,"y":3250},{"x":1215,"y":2800},{"x":1230,"y":2450},{"x":1205,"y":2050},{"x":1220,"y":1750},{"x":1210,"y":1450},{"x":1195,"y":1150},{"x":1225,"y":950},{"x":1210,"y":760},{"x":1200,"y":590},
    {"x":1300,"y":3900},{"x":1315,"y":3400},{"x":1290,"y":2950},{"x":1305,"y":2600},{"x":1320,"y":2250},{"x":1295,"y":1850},{"x":1310,"y":1520},{"x":1300,"y":1250},{"x":1285,"y":1020},{"x":1315,"y":820},{"x":1300,"y":660},{"x":1290,"y":540},
    {"x":1400,"y":3500},{"x":1420,"y":3100},{"x":1390,"y":2700},{"x":1410,"y":2350},{"x":1380,"y":2000},{"x":1415,"y":1650},{"x":1400,"y":1350},{"x":1385,"y":1100},{"x":1420,"y":900},{"x":1400,"y":730},{"x":1395,"y":600},
    {"x":1520,"y":3600},{"x":1500,"y":2900},{"x":1540,"y":2500},{"x":1510,"y":2100},{"x":1530,"y":1700},{"x":1490,"y":1450},{"x":1520,"y":1180},{"x":1540,"y":950},{"x":1500,"y":780},{"x":1530,"y":640},{"x":1515,"y":520},
    {"x":1650,"y":3200},{"x":1630,"y":2650},{"x":1670,"y":2200},{"x":1640,"y":1850},{"x":1660,"y":1500},{"x":1620,"y":1300},{"x":1650,"y":1020},{"x":1680,"y":830},{"x":1635,"y":680},{"x":1660,"y":560},
    {"x":1800,"y":3000},{"x":1780,"y":2400},{"x":1820,"y":1950},{"x":1790,"y":1600},{"x":1810,"y":1250},{"x":1770,"y":1000},{"x":1800,"y":850},{"x":1830,"y":700},{"x":1785,"y":580},
    {"x":2000,"y":1300},{"x":2100,"y":1020},{"x":2200,"y":800},{"x":2300,"y":640},{"x":2400,"y":540},{"x":2500,"y":1200},{"x":2650,"y":900},{"x":2800,"y":700},{"x":2950,"y":560},{"x":3100,"y":1350},{"x":3250,"y":1050},{"x":3400,"y":780},{"x":3500,"y":620},{"x":3650,"y":520},{"x":3800,"y":1150},{"x":3950,"y":880},{"x":4100,"y":680},{"x":4300,"y":560},{"x":4500,"y":1400},{"x":4700,"y":1250},{"x":4800,"y":1000},{"x":4950,"y":760},{"x":5100,"y":620},{"x":5200,"y":530},{"x":5400,"y":1300},{"x":5500,"y":1050},{"x":5700,"y":850},{"x":5850,"y":680},{"x":6000,"y":580},{"x":6200,"y":1200},{"x":6400,"y":950},{"x":6550,"y":760},{"x":6700,"y":640},{"x":6900,"y":540},{"x":7100,"y":1050},{"x":7300,"y":800},{"x":7500,"y":680},{"x":7700,"y":590},{"x":7900,"y":510},{"x":8200,"y":1200},{"x":8500,"y":880},{"x":8800,"y":700},{"x":9100,"y":600},{"x":9400,"y":1050},{"x":9700,"y":560},{"x":10000,"y":1000},{"x":10500,"y":780},{"x":11000,"y":650},{"x":11500,"y":560},{"x":12500,"y":640},{"x":13500,"y":600},{"x":15000,"y":780},{"x":15600,"y":520},{"x":17000,"y":640},{"x":18500,"y":600},{"x":24000,"y":1000},
    {"x":13500,"y":300},{"x":14500,"y":220},{"x":15500,"y":330},{"x":16000,"y":150},{"x":17000,"y":250},{"x":18000,"y":130},{"x":19000,"y":320},{"x":20000,"y":190},{"x":21000,"y":400},{"x":23000,"y":420},{"x":25000,"y":120},{"x":26000,"y":230},{"x":28500,"y":200},{"x":33000,"y":190},{"x":27000,"y":60},{"x":21000,"y":5},{"x":19500,"y":-40},
    {"x":30,"y":7700},{"x":80,"y":8200},{"x":150,"y":7600},{"x":200,"y":7900},{"x":280,"y":8000},{"x":350,"y":7800},{"x":450,"y":7500},{"x":500,"y":8300},{"x":560,"y":7800},{"x":640,"y":7500},{"x":720,"y":7900},{"x":800,"y":7400},{"x":880,"y":7700},{"x":100,"y":7200},{"x":240,"y":7100},{"x":400,"y":7100},{"x":600,"y":7200},{"x":850,"y":7100},
    {"x":-100,"y":4700},{"x":-90,"y":4000},{"x":-75,"y":5500},{"x":-60,"y":3000},{"x":-50,"y":6200},{"x":-40,"y":2200},{"x":-30,"y":1500},{"x":-25,"y":1100},{"x":-35,"y":800},{"x":-25,"y":600},{"x":-45,"y":1800},{"x":-20,"y":-70},{"x":-10,"y":-90},{"x":20,"y":-70},{"x":100,"y":-70},{"x":300,"y":-70},{"x":600,"y":-70}
   ]},"mark":{"type":"square","size":4,"opacity":1,"color":"#2f4da3"},"encoding":{"x":{"field":"x","type":"quantitative"},"y":{"field":"y","type":"quantitative"}}},
   {"data":{"values":[
    {"level":"g1","x":-68,"x2":953,"y":7400,"y2":3735},{"level":"g2","x":-68,"x2":953,"y":3900,"y2":2610},{"level":"g3","x":-68,"x2":953,"y":2540,"y2":1395},{"level":"g4","x":-68,"x2":953,"y":1326,"y2":398},{"level":"g5","x":1048,"x2":4450,"y":426,"y2":-120},{"level":"g6","x":4570,"x2":6250,"y":448,"y2":-120},{"level":"g7","x":6350,"x2":8190,"y":448,"y2":-120},{"level":"g8","x":8270,"x2":39400,"y":458,"y2":-120}
   ]},"mark":{"type":"rect","filled":false,"strokeWidth":5,"opacity":0.85},"encoding":{"x":{"field":"x","type":"quantitative"},"x2":{"field":"x2"},"y":{"field":"y","type":"quantitative"},"y2":{"field":"y2"},"color":{"field":"level","type":"nominal","legend":null}}},
   {"data":{"values":[{"x":1000}]},"mark":{"type":"rule","color":"#8e8e8e","strokeWidth":3},"encoding":{"x":{"field":"x","type":"quantitative"}}},
   {"data":{"values":[{"y":867}]},"mark":{"type":"rule","color":"#8e8e8e","strokeWidth":3},"encoding":{"y":{"field":"y","type":"quantitative"}}},
   {"data":{"values":[
    {"level":"g1","x":-280,"x2":-109,"y":6090,"y2":4440},{"level":"g2","x":-280,"x2":-109,"y":3600,"y2":2580},{"level":"g3","x":-280,"x2":-109,"y":2222,"y2":1553},{"level":"g4","x":-280,"x2":-109,"y":964,"y2":612},{"level":"g5","x":1894,"x2":2610,"y":-154,"y2":-353},{"level":"g6","x":4620,"x2":6170,"y":-154,"y2":-353},{"level":"g7","x":6280,"x2":8360,"y":-154,"y2":-353},{"level":"g8","x":16040,"x2":21170,"y":-154,"y2":-353}
   ]},"mark":{"type":"rect"},"encoding":{"x":{"field":"x","type":"quantitative"},"x2":{"field":"x2"},"y":{"field":"y","type":"quantitative"},"y2":{"field":"y2"},"color":{"field":"level","type":"nominal","legend":null}}},
   {"data":{"values":[{"x":-190,"y":5200,"t":"1"},{"x":-190,"y":3050,"t":"2"},{"x":-190,"y":1860,"t":"3"},{"x":-190,"y":775,"t":"4"},{"x":2230,"y":-246,"t":"5"},{"x":5350,"y":-246,"t":"6"},{"x":7260,"y":-246,"t":"7"},{"x":18400,"y":-246,"t":"8"}]},"mark":{"type":"text","fontSize":11.5,"color":"#231f20"},"encoding":{"x":{"field":"x","type":"quantitative"},"y":{"field":"y","type":"quantitative"},"text":{"field":"t"}}}
  ]}
]},
{"spacing":11,"vconcat":[
{"columns":2,"bounds":"flush","spacing":{"row":3,"column":64},"concat":[
    {"width":89,"height":89,"title":{"text":"Glul","dy":21},"data":{"name":"c"},"transform":[{"filter":"datum.gene=='Glul'"}],"layer":[
      {"mark":{"type":"area","color":"#c9d8ef"},"encoding":{"x":{"field":"g","type":"quantitative","scale":{"domain":[1,8]},"axis":{"values":[4.5],"labels":false,"tickSize":-3,"title":null}},"y":{"field":"l","type":"quantitative","scale":{"domain":[0,1.11],"nice":false},"axis":{"labelOverlap":false,"tickCount":500,"title":null,"values":[0.2,0.4,0.6,0.8,1],"labelExpr":"datum.value==0.4||datum.value==0.8?'':datum.label","format":".1~f","tickSize":-3,"labelPadding":6}},"y2":{"field":"h"}}},
      {"mark":{"type":"line","color":"#4273b9","strokeWidth":4.5},"encoding":{"x":{"field":"g","type":"quantitative"},"y":{"field":"b","type":"quantitative"}}},
      {"transform":[{"filter":"datum.yl!=null"}],"mark":{"type":"area","color":"#f6c860","opacity":0.6},"encoding":{"x":{"field":"g","type":"quantitative"},"y":{"field":"yl","type":"quantitative"},"y2":{"field":"yh"}}},
      {"mark":{"type":"line","color":"#f7b61a","strokeWidth":4.5},"encoding":{"x":{"field":"g","type":"quantitative"},"y":{"field":"y","type":"quantitative"}}},
      {"data":{"values":[{"g":-2.15,"y":1.27,"t":"c"}]},"mark":{"type":"text","fontSize":16,"fontWeight":"bold","color":"#111111"},"encoding":{"x":{"field":"g","type":"quantitative"},"y":{"field":"y","type":"quantitative"},"text":{"field":"t"}}}
     ]},
    {"width":89,"height":89,"title":"Gulo","data":{"name":"c"},"transform":[{"filter":"datum.gene=='Gulo'"}],"layer":[
      {"mark":{"type":"area","color":"#c9d8ef"},"encoding":{"x":{"field":"g","type":"quantitative","scale":{"domain":[1,8]},"axis":{"values":[4.5],"labels":false,"tickSize":-3,"title":null}},"y":{"field":"l","type":"quantitative","scale":{"domain":[0,1.19],"nice":false},"axis":{"labelOverlap":false,"tickCount":500,"title":null,"values":[0.2,0.4,0.6,0.8,1],"labelExpr":"datum.value==0.4||datum.value==0.8?'':datum.label","format":".1~f","tickSize":-3,"labelPadding":6}},"y2":{"field":"h"}}},
      {"mark":{"type":"line","color":"#4273b9","strokeWidth":4.5},"encoding":{"x":{"field":"g","type":"quantitative"},"y":{"field":"b","type":"quantitative"}}},
      {"transform":[{"filter":"datum.yl!=null"}],"mark":{"type":"area","color":"#f6c860","opacity":0.6},"encoding":{"x":{"field":"g","type":"quantitative"},"y":{"field":"yl","type":"quantitative"},"y2":{"field":"yh"}}},
      {"mark":{"type":"line","color":"#f7b61a","strokeWidth":4.5},"encoding":{"x":{"field":"g","type":"quantitative"},"y":{"field":"y","type":"quantitative"}}}
     ]},
    {"width":89,"height":10,"view":{"stroke":null},"data":{"name":"g"},"layer":[{"mark":"rect","encoding":{"x":{"field":"n","type":"nominal","axis":null,"scale":{"padding":0.06}},"color":{"field":"level","type":"nominal","legend":null}}},{"mark":{"type":"text","fontSize":9.5,"color":"#231f20"},"encoding":{"x":{"field":"n","type":"nominal"},"text":{"field":"n"}}}]},
    {"width":89,"height":10,"view":{"stroke":null},"data":{"name":"g"},"layer":[{"mark":"rect","encoding":{"x":{"field":"n","type":"nominal","axis":null,"scale":{"padding":0.06}},"color":{"field":"level","type":"nominal","legend":null}}},{"mark":{"type":"text","fontSize":9.5,"color":"#231f20"},"encoding":{"x":{"field":"n","type":"nominal"},"text":{"field":"n"}}}]},
    {"width":89,"height":27,"view":{"stroke":null},"data":{"name":"sp"},"mark":{"type":"text","text":""}},
    {"width":89,"height":27,"view":{"stroke":null},"data":{"name":"sp"},"mark":{"type":"text","text":""}},
    {"width":89,"height":87,"title":"Lect2","data":{"name":"c"},"transform":[{"filter":"datum.gene=='Lect2'"}],"layer":[
      {"mark":{"type":"area","color":"#c9d8ef"},"encoding":{"x":{"field":"g","type":"quantitative","scale":{"domain":[1,8]},"axis":{"values":[4.5],"labels":false,"tickSize":-3,"title":null}},"y":{"field":"l","type":"quantitative","scale":{"domain":[0,1.18],"nice":false},"axis":{"labelOverlap":false,"tickCount":500,"title":null,"values":[0.2,0.4,0.6,0.8,1],"labelExpr":"datum.value==0.4||datum.value==0.8?'':datum.label","format":".1~f","tickSize":-3,"labelPadding":6}},"y2":{"field":"h"}}},
      {"mark":{"type":"line","color":"#4273b9","strokeWidth":4.5},"encoding":{"x":{"field":"g","type":"quantitative"},"y":{"field":"b","type":"quantitative"}}},
      {"transform":[{"filter":"datum.yl!=null"}],"mark":{"type":"area","color":"#f6c860","opacity":0.6},"encoding":{"x":{"field":"g","type":"quantitative"},"y":{"field":"yl","type":"quantitative"},"y2":{"field":"yh"}}},
      {"mark":{"type":"line","color":"#f7b61a","strokeWidth":4.5},"encoding":{"x":{"field":"g","type":"quantitative"},"y":{"field":"y","type":"quantitative"}}}
     ]},
    {"width":89,"height":87,"title":"Cyp2e1","data":{"name":"c"},"transform":[{"filter":"datum.gene=='Cyp2e1'"}],"layer":[
      {"mark":{"type":"area","color":"#c9d8ef"},"encoding":{"x":{"field":"g","type":"quantitative","scale":{"domain":[1,8]},"axis":{"values":[4.5],"labels":false,"tickSize":-3,"title":null}},"y":{"field":"l","type":"quantitative","scale":{"domain":[0,1.1],"nice":false},"axis":{"labelOverlap":false,"tickCount":500,"title":null,"values":[0.2,0.4,0.6,0.8,1],"labelExpr":"datum.value==0.4||datum.value==0.8?'':datum.label","format":".1~f","tickSize":-3,"labelPadding":6}},"y2":{"field":"h"}}},
      {"mark":{"type":"line","color":"#4273b9","strokeWidth":4.5},"encoding":{"x":{"field":"g","type":"quantitative"},"y":{"field":"b","type":"quantitative"}}},
      {"mark":{"type":"line","color":"#f7b61a","strokeWidth":4.5},"encoding":{"x":{"field":"g","type":"quantitative"},"y":{"field":"y","type":"quantitative"}}}
     ]},
    {"width":89,"height":10,"view":{"stroke":null},"data":{"name":"g"},"layer":[{"mark":"rect","encoding":{"x":{"field":"n","type":"nominal","axis":null,"scale":{"padding":0.06}},"color":{"field":"level","type":"nominal","legend":null}}},{"mark":{"type":"text","fontSize":9.5,"color":"#231f20"},"encoding":{"x":{"field":"n","type":"nominal"},"text":{"field":"n"}}}]},
    {"width":89,"height":10,"view":{"stroke":null},"data":{"name":"g"},"layer":[{"mark":"rect","encoding":{"x":{"field":"n","type":"nominal","axis":null,"scale":{"padding":0.06}},"color":{"field":"level","type":"nominal","legend":null}}},{"mark":{"type":"text","fontSize":9.5,"color":"#231f20"},"encoding":{"x":{"field":"n","type":"nominal"},"text":{"field":"n"}}}]},
    {"width":89,"height":27,"view":{"stroke":null},"data":{"name":"sp"},"mark":{"type":"text","text":""}},
    {"width":89,"height":27,"view":{"stroke":null},"data":{"name":"sp"},"mark":{"type":"text","text":""}},
    {"width":89,"height":88,"title":"Gsta3","data":{"name":"c"},"transform":[{"filter":"datum.gene=='Gsta3'"}],"layer":[
      {"mark":{"type":"area","color":"#c9d8ef"},"encoding":{"x":{"field":"g","type":"quantitative","scale":{"domain":[1,8]},"axis":{"values":[4.5],"labels":false,"tickSize":-3,"title":null}},"y":{"field":"l","type":"quantitative","scale":{"domain":[0,1.09],"nice":false},"axis":{"labelOverlap":false,"tickCount":500,"title":null,"values":[0.2,0.4,0.6,0.8,1],"labelExpr":"datum.value==0.4||datum.value==0.8?'':datum.label","format":".1~f","tickSize":-3,"labelPadding":6}},"y2":{"field":"h"}}},
      {"mark":{"type":"line","color":"#4273b9","strokeWidth":4.5},"encoding":{"x":{"field":"g","type":"quantitative"},"y":{"field":"b","type":"quantitative"}}},
      {"mark":{"type":"line","color":"#f7b61a","strokeWidth":4.5},"encoding":{"x":{"field":"g","type":"quantitative"},"y":{"field":"y","type":"quantitative"}}}
     ]},
    {"width":89,"height":88,"title":"Hamp","data":{"name":"c"},"transform":[{"filter":"datum.gene=='Hamp'"}],"layer":[
      {"mark":{"type":"area","color":"#c9d8ef"},"encoding":{"x":{"field":"g","type":"quantitative","scale":{"domain":[1,8]},"axis":{"values":[4.5],"labels":false,"tickSize":-3,"title":null}},"y":{"field":"l","type":"quantitative","scale":{"domain":[0,1.32],"nice":false},"axis":{"labelOverlap":false,"tickCount":500,"title":null,"values":[0.2,0.4,0.6,0.8,1],"labelExpr":"datum.value==0.4||datum.value==0.8?'':datum.label","format":".1~f","tickSize":-3,"labelPadding":6}},"y2":{"field":"h"}}},
      {"mark":{"type":"line","color":"#4273b9","strokeWidth":4.5},"encoding":{"x":{"field":"g","type":"quantitative"},"y":{"field":"b","type":"quantitative"}}},
      {"transform":[{"filter":"datum.yl!=null"}],"mark":{"type":"area","color":"#f6c860","opacity":0.6},"encoding":{"x":{"field":"g","type":"quantitative"},"y":{"field":"yl","type":"quantitative"},"y2":{"field":"yh"}}},
      {"mark":{"type":"line","color":"#f7b61a","strokeWidth":4.5},"encoding":{"x":{"field":"g","type":"quantitative"},"y":{"field":"y","type":"quantitative"}}}
     ]},
    {"width":89,"height":10,"view":{"stroke":null},"data":{"name":"g"},"layer":[{"mark":"rect","encoding":{"x":{"field":"n","type":"nominal","axis":null,"scale":{"padding":0.06}},"color":{"field":"level","type":"nominal","legend":null}}},{"mark":{"type":"text","fontSize":9.5,"color":"#231f20"},"encoding":{"x":{"field":"n","type":"nominal"},"text":{"field":"n"}}}]},
    {"width":89,"height":10,"view":{"stroke":null},"data":{"name":"g"},"layer":[{"mark":"rect","encoding":{"x":{"field":"n","type":"nominal","axis":null,"scale":{"padding":0.06}},"color":{"field":"level","type":"nominal","legend":null}}},{"mark":{"type":"text","fontSize":9.5,"color":"#231f20"},"encoding":{"x":{"field":"n","type":"nominal"},"text":{"field":"n"}}}]},
    {"width":89,"height":27,"view":{"stroke":null},"data":{"name":"sp"},"mark":{"type":"text","text":""}},
    {"width":89,"height":27,"view":{"stroke":null},"data":{"name":"sp"},"mark":{"type":"text","text":""}},
    {"width":89,"height":88,"title":{"text":"Hamp2","dy":111},"data":{"name":"c"},"transform":[{"filter":"datum.gene=='Hamp2'"}],"layer":[
      {"mark":{"type":"area","color":"#c9d8ef"},"encoding":{"x":{"field":"g","type":"quantitative","scale":{"domain":[1,8]},"axis":{"values":[4.5],"labels":false,"tickSize":-3,"title":null}},"y":{"field":"l","type":"quantitative","scale":{"domain":[0,1.5],"nice":false},"axis":{"labelOverlap":false,"tickCount":500,"title":"RNA expression (normalized to max)","titleX":-38,"titleY":-10,"titleFontSize":12,"values":[0.2,0.4,0.6,0.8,1,1.2,1.4],"labelExpr":"datum.value==0.4||datum.value==0.8||datum.value==1.2?'':datum.label","format":".1~f","tickSize":-3,"labelPadding":6}},"y2":{"field":"h"}}},
      {"mark":{"type":"line","color":"#4273b9","strokeWidth":4.5},"encoding":{"x":{"field":"g","type":"quantitative"},"y":{"field":"b","type":"quantitative"}}},
      {"mark":{"type":"line","color":"#f7b61a","strokeWidth":4.5},"encoding":{"x":{"field":"g","type":"quantitative"},"y":{"field":"y","type":"quantitative"}}}
     ]},
    {"width":89,"height":88,"title":"Hpx","data":{"name":"c"},"transform":[{"filter":"datum.gene=='Hpx'"}],"layer":[
      {"mark":{"type":"area","color":"#c9d8ef"},"encoding":{"x":{"field":"g","type":"quantitative","scale":{"domain":[1,8]},"axis":{"values":[4.5],"labels":false,"tickSize":-3,"title":null}},"y":{"field":"l","type":"quantitative","scale":{"domain":[0,1.16],"nice":false},"axis":{"labelOverlap":false,"tickCount":500,"title":null,"values":[0.2,0.4,0.6,0.8,1],"labelExpr":"datum.value==0.4||datum.value==0.8?'':datum.label","format":".1~f","tickSize":-3,"labelPadding":6}},"y2":{"field":"h"}}},
      {"mark":{"type":"line","color":"#4273b9","strokeWidth":4.5},"encoding":{"x":{"field":"g","type":"quantitative"},"y":{"field":"b","type":"quantitative"}}},
      {"mark":{"type":"line","color":"#f7b61a","strokeWidth":4.5},"encoding":{"x":{"field":"g","type":"quantitative"},"y":{"field":"y","type":"quantitative"}}}
     ]},
    {"width":89,"height":10,"view":{"stroke":null},"data":{"name":"g"},"layer":[{"mark":"rect","encoding":{"x":{"field":"n","type":"nominal","axis":null,"scale":{"padding":0.06}},"color":{"field":"level","type":"nominal","legend":null}}},{"mark":{"type":"text","fontSize":9.5,"color":"#231f20"},"encoding":{"x":{"field":"n","type":"nominal"},"text":{"field":"n"}}}]},
    {"width":89,"height":10,"view":{"stroke":null},"data":{"name":"g"},"layer":[{"mark":"rect","encoding":{"x":{"field":"n","type":"nominal","axis":null,"scale":{"padding":0.06}},"color":{"field":"level","type":"nominal","legend":null}}},{"mark":{"type":"text","fontSize":9.5,"color":"#231f20"},"encoding":{"x":{"field":"n","type":"nominal"},"text":{"field":"n"}}}]},
    {"width":89,"height":27,"view":{"stroke":null},"data":{"name":"sp"},"mark":{"type":"text","text":""}},
    {"width":89,"height":27,"view":{"stroke":null},"data":{"name":"sp"},"mark":{"type":"text","text":""}},
    {"width":89,"height":87,"title":"Alb","data":{"name":"c"},"transform":[{"filter":"datum.gene=='Alb'"}],"layer":[
      {"mark":{"type":"area","color":"#c9d8ef"},"encoding":{"x":{"field":"g","type":"quantitative","scale":{"domain":[1,8]},"axis":{"values":[4.5],"labels":false,"tickSize":-3,"title":null}},"y":{"field":"l","type":"quantitative","scale":{"domain":[0,1.05],"nice":false},"axis":{"labelOverlap":false,"tickCount":500,"title":null,"values":[0.2,0.4,0.6,0.8,1],"labelExpr":"datum.value==0.4||datum.value==0.8?'':datum.label","format":".1~f","tickSize":-3,"labelPadding":6}},"y2":{"field":"h"}}},
      {"mark":{"type":"line","color":"#4273b9","strokeWidth":4.5},"encoding":{"x":{"field":"g","type":"quantitative"},"y":{"field":"b","type":"quantitative"}}},
      {"mark":{"type":"line","color":"#f7b61a","strokeWidth":4.5},"encoding":{"x":{"field":"g","type":"quantitative"},"y":{"field":"y","type":"quantitative"}}}
     ]},
    {"width":89,"height":87,"title":"Cyp2f2","data":{"name":"c"},"transform":[{"filter":"datum.gene=='Cyp2f2'"}],"layer":[
      {"mark":{"type":"area","color":"#c9d8ef"},"encoding":{"x":{"field":"g","type":"quantitative","scale":{"domain":[1,8]},"axis":{"values":[4.5],"labels":false,"tickSize":-3,"title":null}},"y":{"field":"l","type":"quantitative","scale":{"domain":[0,1.05],"nice":false},"axis":{"labelOverlap":false,"tickCount":500,"title":null,"values":[0.2,0.4,0.6,0.8,1],"labelExpr":"datum.value==0.4||datum.value==0.8?'':datum.label","format":".1~f","tickSize":-3,"labelPadding":6}},"y2":{"field":"h"}}},
      {"mark":{"type":"line","color":"#4273b9","strokeWidth":4.5},"encoding":{"x":{"field":"g","type":"quantitative"},"y":{"field":"b","type":"quantitative"}}},
      {"mark":{"type":"line","color":"#f7b61a","strokeWidth":4.5},"encoding":{"x":{"field":"g","type":"quantitative"},"y":{"field":"y","type":"quantitative"}}}
     ]},
    {"width":89,"height":10,"view":{"stroke":null},"data":{"name":"g"},"layer":[{"mark":"rect","encoding":{"x":{"field":"n","type":"nominal","axis":null,"scale":{"padding":0.06}},"color":{"field":"level","type":"nominal","legend":null}}},{"mark":{"type":"text","fontSize":9.5,"color":"#231f20"},"encoding":{"x":{"field":"n","type":"nominal"},"text":{"field":"n"}}}]},
    {"width":89,"height":10,"view":{"stroke":null},"data":{"name":"g"},"layer":[{"mark":"rect","encoding":{"x":{"field":"n","type":"nominal","axis":null,"scale":{"padding":0.06}},"color":{"field":"level","type":"nominal","legend":null}}},{"mark":{"type":"text","fontSize":9.5,"color":"#231f20"},"encoding":{"x":{"field":"n","type":"nominal"},"text":{"field":"n"}}}]},
    {"width":89,"height":33,"view":{"stroke":null},"data":{"name":"sp"},"mark":{"type":"text","text":""}},
    {"width":89,"height":33,"view":{"stroke":null},"data":{"name":"sp"},"mark":{"type":"text","text":""}},
    {"width":89,"height":86,"title":"Hsd17b13","data":{"name":"c"},"transform":[{"filter":"datum.gene=='Hsd17b13'"}],"layer":[
      {"mark":{"type":"area","color":"#c9d8ef"},"encoding":{"x":{"field":"g","type":"quantitative","scale":{"domain":[1,8]},"axis":{"values":[4.5],"labels":false,"tickSize":-3,"title":null}},"y":{"field":"l","type":"quantitative","scale":{"domain":[0,1.05],"nice":false},"axis":{"labelOverlap":false,"tickCount":500,"title":null,"values":[0.2,0.4,0.6,0.8,1],"labelExpr":"datum.value==0.4||datum.value==0.8?'':datum.label","format":".1~f","tickSize":-3,"labelPadding":6}},"y2":{"field":"h"}}},
      {"mark":{"type":"line","color":"#4273b9","strokeWidth":4.5},"encoding":{"x":{"field":"g","type":"quantitative"},"y":{"field":"b","type":"quantitative"}}},
      {"mark":{"type":"line","color":"#f7b61a","strokeWidth":4.5},"encoding":{"x":{"field":"g","type":"quantitative"},"y":{"field":"y","type":"quantitative"}}}
     ]},
    {"width":89,"height":86,"title":"Sds","data":{"name":"c"},"transform":[{"filter":"datum.gene=='Sds'"}],"layer":[
      {"mark":{"type":"area","color":"#c9d8ef"},"encoding":{"x":{"field":"g","type":"quantitative","scale":{"domain":[1,8]},"axis":{"values":[4.5],"labels":false,"tickSize":-3,"title":null}},"y":{"field":"l","type":"quantitative","scale":{"domain":[0,1.18],"nice":false},"axis":{"labelOverlap":false,"tickCount":500,"title":null,"values":[0.2,0.4,0.6,0.8,1],"labelExpr":"datum.value==0.4||datum.value==0.8?'':datum.label","format":".1~f","tickSize":-3,"labelPadding":6}},"y2":{"field":"h"}}},
      {"mark":{"type":"line","color":"#4273b9","strokeWidth":4.5},"encoding":{"x":{"field":"g","type":"quantitative"},"y":{"field":"b","type":"quantitative"}}},
      {"mark":{"type":"line","color":"#f7b61a","strokeWidth":4.5},"encoding":{"x":{"field":"g","type":"quantitative"},"y":{"field":"y","type":"quantitative"}}}
     ]},
    {"width":89,"height":10,"view":{"stroke":null},"data":{"name":"g"},"layer":[{"mark":"rect","encoding":{"x":{"field":"n","type":"nominal","scale":{"padding":0.06},"axis":{"values":["1","8"],"labelExpr":"datum.value=='1'?'CV':'PN'","labelAngle":0,"tickSize":0,"labelPadding":15,"labelFontSize":12,"labelColor":{"condition":{"test":"datum.value=='1'","value":"#f28b8b"},"value":"#a8d89a"},"title":"FACS gate","titleFontSize":12,"titleX":124,"titleY":35}},"color":{"field":"level","type":"nominal","legend":null}}},{"mark":{"type":"text","fontSize":9.5,"color":"#231f20"},"encoding":{"x":{"field":"n","type":"nominal"},"text":{"field":"n"}}}]},
    {"width":89,"height":10,"view":{"stroke":null},"data":{"name":"g"},"layer":[{"mark":"rect","encoding":{"x":{"field":"n","type":"nominal","scale":{"padding":0.06},"axis":{"values":["1","8"],"labelExpr":"datum.value=='1'?'CV':'PN'","labelAngle":0,"tickSize":0,"labelPadding":15,"labelFontSize":12,"labelColor":{"condition":{"test":"datum.value=='1'","value":"#f28b8b"},"value":"#a8d89a"},"title":null}},"color":{"field":"level","type":"nominal","legend":null}}},{"mark":{"type":"text","fontSize":9.5,"color":"#231f20"},"encoding":{"x":{"field":"n","type":"nominal"},"text":{"field":"n"}}}]}
]},
 {"width":240,"height":50,"view":{"stroke":null},
  "layer":[
   {"data":{"values":[{"x":-25,"x2":-6,"y":38,"s":"single"},{"x":-25,"x2":-6,"y":8,"s":"facs"}]},"mark":{"type":"rule","strokeWidth":5},"encoding":{"x":{"field":"x","type":"quantitative","scale":{"domain":[0,240],"nice":false},"axis":null},"x2":{"field":"x2"},"y":{"field":"y","type":"quantitative","scale":{"domain":[0,50],"nice":false},"axis":null},"stroke":{"field":"s","type":"nominal","scale":{"domain":["single","facs"],"range":["#f7b61a","#4273b9"]},"legend":null}}},
   {"data":{"values":[{"x":-1,"y":38,"t":"single cell RNAseq interpolated layers"},{"x":-1,"y":8,"t":"RNAseq of FACS-gated populations"}]},"mark":{"type":"text","align":"left","fontSize":11.5,"color":"#231f20"},"encoding":{"x":{"field":"x","type":"quantitative"},"y":{"field":"y","type":"quantitative"},"text":{"field":"t"}}},
   {"data":{"values":[{"x":204,"y":42,"t":"5"}]},"mark":{"type":"text","align":"left","fontSize":9,"color":"#231f20"},"encoding":{"x":{"field":"x","type":"quantitative"},"y":{"field":"y","type":"quantitative"},"text":{"field":"t"}}}
  ]}
]}
]}
